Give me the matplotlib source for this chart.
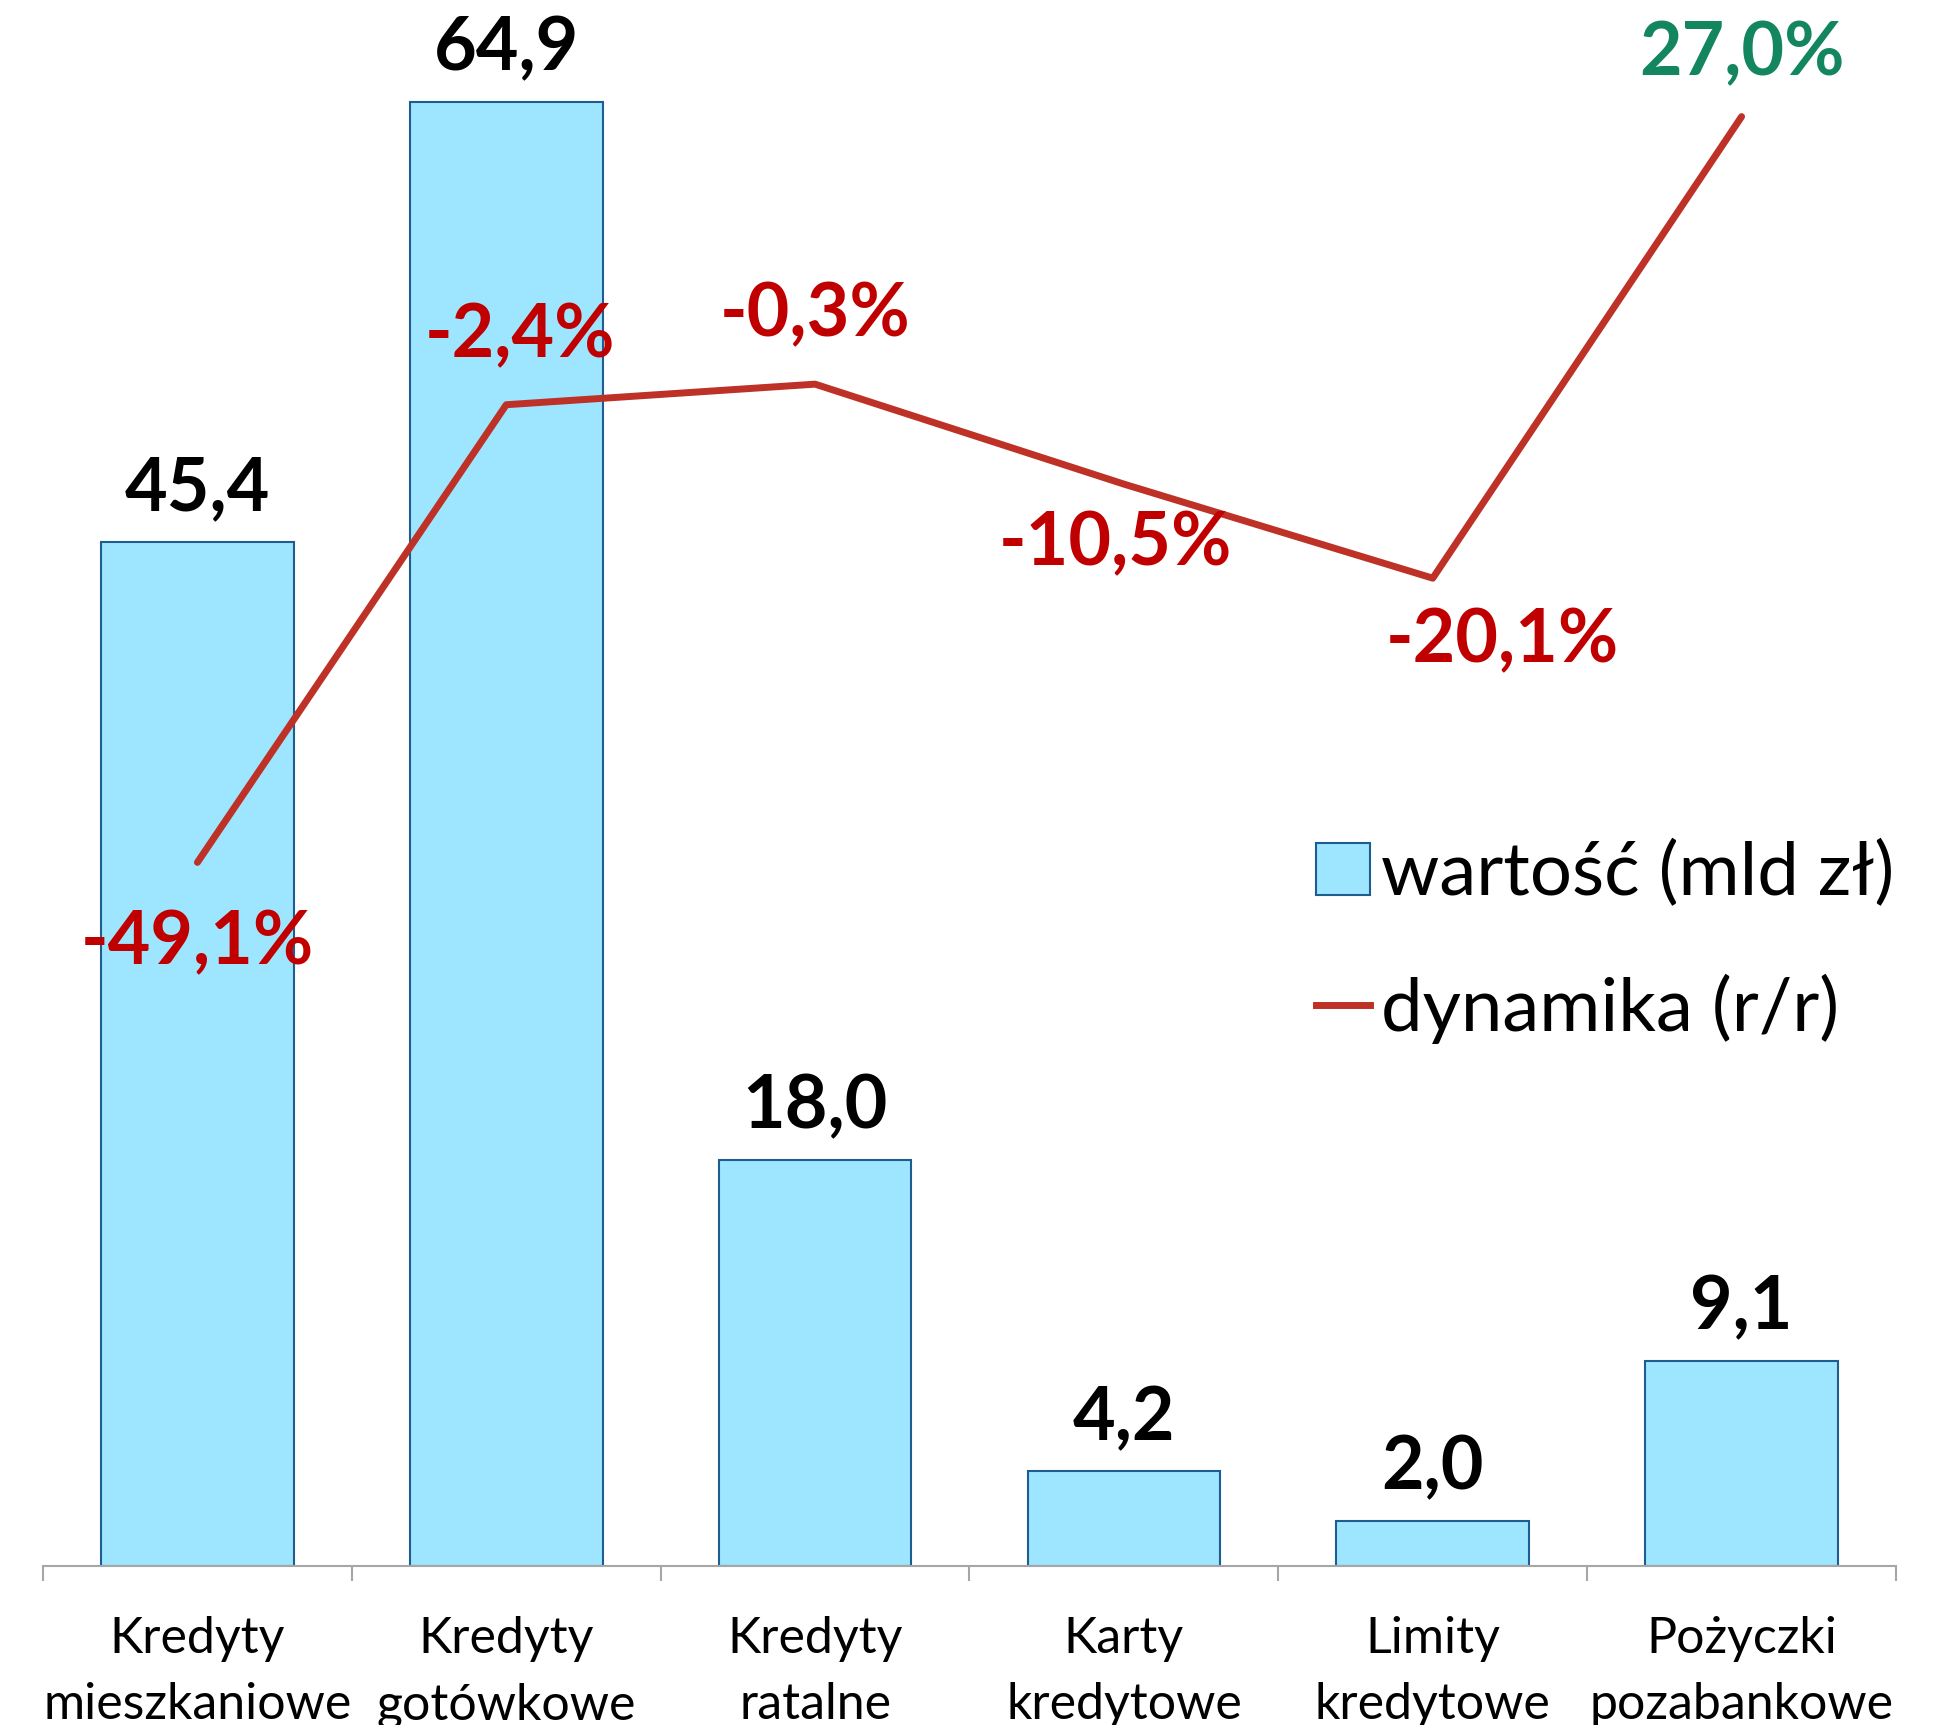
import matplotlib
matplotlib.use("Agg")
import matplotlib.pyplot as plt
from matplotlib.patches import Patch
from matplotlib.lines import Line2D

categories = ["Kredyty\nmieszkaniowe", "Kredyty\ngotówkowe", "Kredyty\nratalne",
              "Karty\nkredytowe", "Limity\nkredytowe", "Pożyczki\npozabankowe"]
values = [45.4, 64.9, 18.0, 4.2, 2.0, 9.1]
dynamics = [-49.1, -2.4, -0.3, -10.5, -20.1, 27.0]
value_labels = ["45,4", "64,9", "18,0", "4,2", "2,0", "9,1"]
dyn_labels = ["-49,1%", "-2,4%", "-0,3%", "-10,5%", "-20,1%", "27,0%"]

plt.rcParams['font.family'] = ['Lato', 'DejaVu Sans']

W, H = 1937, 1725
fig = plt.figure(figsize=(W / 100, H / 100), dpi=100)
left, right = 43 / W, 1896 / W
bottom = 1 - 1566 / H
ax = fig.add_axes([left, bottom, right - left, 1 - bottom])
x = list(range(len(categories)))

ax.bar(x, values, width=0.624, color="#9EE6FF", edgecolor="#1F5C8F", linewidth=1.5, zorder=2)
ax.set_xlim(-0.5, 5.5)
ax.set_ylim(0, 69.4)
for s in ["top", "right", "left"]:
    ax.spines[s].set_visible(False)
ax.spines["bottom"].set_color("#A6A6A6")
ax.spines["bottom"].set_linewidth(1.5)
ax.set_yticks([])
ax.set_xticks([i - 0.5 for i in range(len(categories) + 1)])
ax.set_xticklabels([])
ax.tick_params(axis="x", which="major", length=11, width=1.5, color="#A6A6A6", direction="out")
ax.set_xticks(x, minor=True)
ax.set_xticklabels(categories, minor=True, fontsize=36, linespacing=1.55)
ax.tick_params(axis="x", which="minor", length=0, pad=36)

for xi, v, lab in zip(x, values, value_labels):
    ax.annotate(lab, (xi, v), xytext=(0, 38), textcoords="offset points",
                ha="center", va="center", fontsize=53, fontweight="bold", color="black")

ax2 = ax.twinx()
ax2.set_ylim(-120.9, 38.9)
ax2.axis("off")
ax2.plot(x, dynamics, color="#BE3126", linewidth=5, solid_capstyle="round", zorder=3)

dyn_offsets = [(0, -58), (10, 50), (0, 50), (-6, -43), (50, -45), (0, 45)]
dyn_colors = ["#C00000"] * 5 + ["#138660"]
for xi, d, lab, off, c in zip(x, dynamics, dyn_labels, dyn_offsets, dyn_colors):
    ax2.annotate(lab, (xi, d), xytext=off, textcoords="offset points",
                 ha="center", va="center", fontsize=53, fontweight="bold", color=c)

handles = [Patch(facecolor="#9EE6FF", edgecolor="#1F5C8F", linewidth=1.5),
           Line2D([0], [0], color="#BE3126", linewidth=5)]
fig.legend(handles, ["wartość (mld zł)", "dynamika (r/r)"], loc="center left",
           bbox_to_anchor=(1316 / W, 1 - 942 / H), frameon=False, fontsize=53.5,
           handlelength=0.72, handleheight=0.7, handletextpad=0.15, labelspacing=0.88,
           borderaxespad=0, borderpad=0)

fig.savefig("out.png", dpi=100)
